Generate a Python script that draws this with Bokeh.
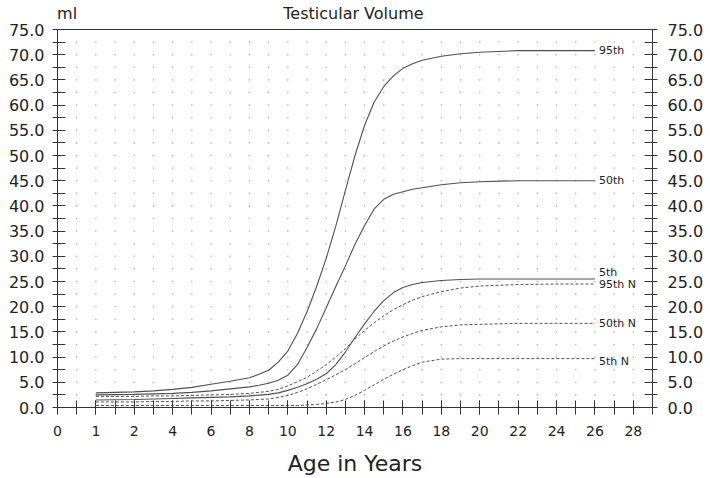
import numpy as np
from bokeh.plotting import figure
from bokeh.models import Range1d, FixedTicker, LinearAxis, ColumnDataSource, NumeralTickFormatter
from bokeh.core.properties import value
from bokeh.embed import file_html
from bokeh.resources import INLINE

# ---- data ----
x_tick_values = [0, 1, 2, 4, 6, 8, 10, 12, 14, 16, 18, 20, 22, 24, 26, 28]
x_tick_labels = [str(v) for v in x_tick_values]
y_tick_values = [0, 5, 10, 15, 20, 25, 30, 35, 40, 45, 50, 55, 60, 65, 70, 75]

ages = [1, 2, 3, 4, 5, 6, 7, 8, 8.5, 9, 9.5, 10, 10.5, 11, 11.5, 12, 12.5, 13, 13.5,
        14, 14.5, 15, 15.5, 16, 16.5, 17, 18, 19, 20, 22, 24, 26]

p95 = [2.9, 3.1, 3.3, 3.6, 4.0, 4.6, 5.2, 5.9, 6.6, 7.4, 9.0, 11.2, 14.7, 19.0, 24.0,
       29.6, 36.0, 43.1, 50.0, 56.0, 60.6, 63.7, 65.8, 67.3, 68.2, 68.9, 69.7,
       70.2, 70.5, 70.8, 70.8, 70.8]
p50 = [2.5, 2.6, 2.7, 2.8, 3.0, 3.3, 3.7, 4.1, 4.4, 4.8, 5.4, 6.4, 8.5, 11.9, 15.6,
       19.8, 24.0, 28.1, 32.4, 36.1, 39.4, 41.3, 42.3, 42.8, 43.3, 43.6, 44.2,
       44.6, 44.8, 45.0, 45.0, 45.0]
p5 = [1.5, 1.6, 1.7, 1.8, 1.9, 2.0, 2.1, 2.3, 2.45, 2.6, 2.9, 3.4, 4.0, 4.7, 5.6,
      6.7, 8.5, 11.0, 13.9, 16.6, 19.1, 21.2, 22.8, 23.8, 24.4, 24.8, 25.2,
      25.4, 25.5, 25.5, 25.5, 25.5]
p95n = [2.2, 2.2, 2.3, 2.3, 2.4, 2.5, 2.6, 2.8, 3.0, 3.2, 3.6, 4.3, 5.1, 6.0, 7.2,
        8.5, 10.0, 11.7, 13.6, 15.3, 16.8, 18.2, 19.4, 20.4, 21.3, 22.0, 23.0,
        23.7, 24.1, 24.4, 24.5, 24.5]
p50n = [1.1, 1.1, 1.2, 1.2, 1.3, 1.3, 1.4, 1.5, 1.6, 1.7, 2.0, 2.4, 3.0, 3.7, 4.6,
        5.5, 6.5, 7.5, 8.7, 9.9, 11.1, 12.2, 13.2, 14.0, 14.7, 15.3, 16.0,
        16.4, 16.5, 16.7, 16.7, 16.7]
p5n = [0.4, 0.4, 0.4, 0.4, 0.4, 0.4, 0.4, 0.4, 0.4, 0.4, 0.4, 0.4, 0.4, 0.5, 0.6,
       0.8, 1.1, 1.6, 2.4, 3.4, 4.5, 5.6, 6.6, 7.5, 8.3, 9.0, 9.6,
       9.7, 9.7, 9.7, 9.7, 9.7]

series_names = ["95th", "50th", "5th", "95th N", "50th N", "5th N"]
series_values = [p95, p50, p5, p95n, p50n, p5n]

title_text = "Testicular Volume"
unit_text = "ml"
x_title = "Age in Years"

# ---- styles ----
FONT = "DejaVu Sans"
LINE_COL = "#505050"
AXIS_COL = "#333333"
TEXT_COL = "#222222"
solid_flags = [True, True, True, False, False, False]
label_dy = [0, 0, -6, 0, 0, 3]
unit_pos = 0.25      # horizontal placement of the "ml" caption (axis units)
title_pos = 7.71     # horizontal placement of the title (axis units)

# x positions: the axis has evenly spaced labels 0,1,2,4,...,28
tick_pos = np.arange(len(x_tick_values))


def to_pos(a):
    return np.interp(np.asarray(a, dtype=float), x_tick_values, tick_pos)


x_max = float(tick_pos[-1]) + 0.5

p = figure(width=710, height=478, x_range=Range1d(0, x_max), y_range=Range1d(0, 75),
           output_backend="svg", toolbar_location=None,
           min_border_left=57, min_border_right=58, min_border_top=27, min_border_bottom=71)
p.xgrid.visible = False
p.ygrid.visible = False
p.outline_line_color = AXIS_COL
p.outline_line_width = 1
p.background_fill_color = "white"
p.border_fill_color = "white"

# dotted grid at half-step positions
gx, gy = np.meshgrid(np.arange(0.5, x_max, 0.5), np.arange(2.5, 75, 2.5))
p.scatter(gx.ravel(), gy.ravel(), size=1.6, color="#b0b0b0", line_color=None)

# curves
xs = to_pos(ages)
for name, vals, solid in zip(series_names, series_values, solid_flags):
    if solid:
        p.line(xs, vals, line_color=LINE_COL, line_width=1.1)
    else:
        p.line(xs, vals, line_color=LINE_COL, line_width=1.0, line_dash="3 2")

# curve end labels
src = ColumnDataSource(dict(
    x=[float(xs[-1])] * len(series_names),
    y=[v[-1] for v in series_values],
    t=series_names,
    dy=label_dy,
))
p.text(x="x", y="y", text="t", source=src, x_offset=4, y_offset="dy",
       text_font=value(FONT), text_font_size="11px", text_color=TEXT_COL,
       text_baseline="middle", text_align="left")

# bottom axis
xa = p.xaxis[0]
xa.ticker = FixedTicker(ticks=[float(t) for t in tick_pos],
                        minor_ticks=[float(t) for t in np.arange(0.5, x_max + 0.01, 0.5)])
xa.major_label_overrides = {int(i): lab for i, lab in zip(tick_pos, x_tick_labels)}
xa.major_tick_in = 7
xa.major_tick_out = 7
xa.minor_tick_in = 7
xa.minor_tick_out = 7
xa.major_label_standoff = 11
xa.major_label_text_font_size = "14px"
xa.axis_label = x_title
xa.axis_label_text_font = FONT
xa.axis_label_text_font_size = "22px"
xa.axis_label_text_font_style = "normal"
xa.axis_label_text_color = TEXT_COL
xa.axis_label_standoff = 12

# left / right axes
y_minor = [v + 2.5 for v in y_tick_values[:-1]]
ya = p.yaxis[0]
ya.ticker = FixedTicker(ticks=y_tick_values, minor_ticks=y_minor)
ya.formatter = NumeralTickFormatter(format="0.0")
ya.major_label_standoff = 8

yr = LinearAxis(ticker=FixedTicker(ticks=y_tick_values, minor_ticks=y_minor),
                formatter=NumeralTickFormatter(format="0.0"))
yr.major_label_standoff = 10
p.add_layout(yr, "right")

for ax in [xa, ya, yr]:
    ax.axis_line_color = AXIS_COL
    ax.major_tick_line_color = AXIS_COL
    ax.minor_tick_line_color = AXIS_COL
    ax.major_label_text_font = FONT
    ax.major_label_text_color = TEXT_COL
for ax in [ya, yr]:
    ax.major_tick_in = 8
    ax.major_tick_out = 5
    ax.minor_tick_in = 8
    ax.minor_tick_out = 5
    ax.major_label_text_font_size = "16px"

# top axis carrying the unit caption and the title on one line
ta = LinearAxis(ticker=FixedTicker(ticks=[unit_pos, title_pos], minor_ticks=[]))
ta.major_label_overrides = {unit_pos: unit_text, title_pos: title_text}
ta.axis_line_color = None
ta.major_tick_line_color = None
ta.minor_tick_line_color = None
ta.major_tick_in = 0
ta.major_tick_out = 0
ta.major_label_standoff = 7
ta.major_label_text_font = FONT
ta.major_label_text_font_size = "16px"
ta.major_label_text_color = TEXT_COL
p.add_layout(ta, "above")

open("out.html", "w").write(file_html(p, INLINE))
